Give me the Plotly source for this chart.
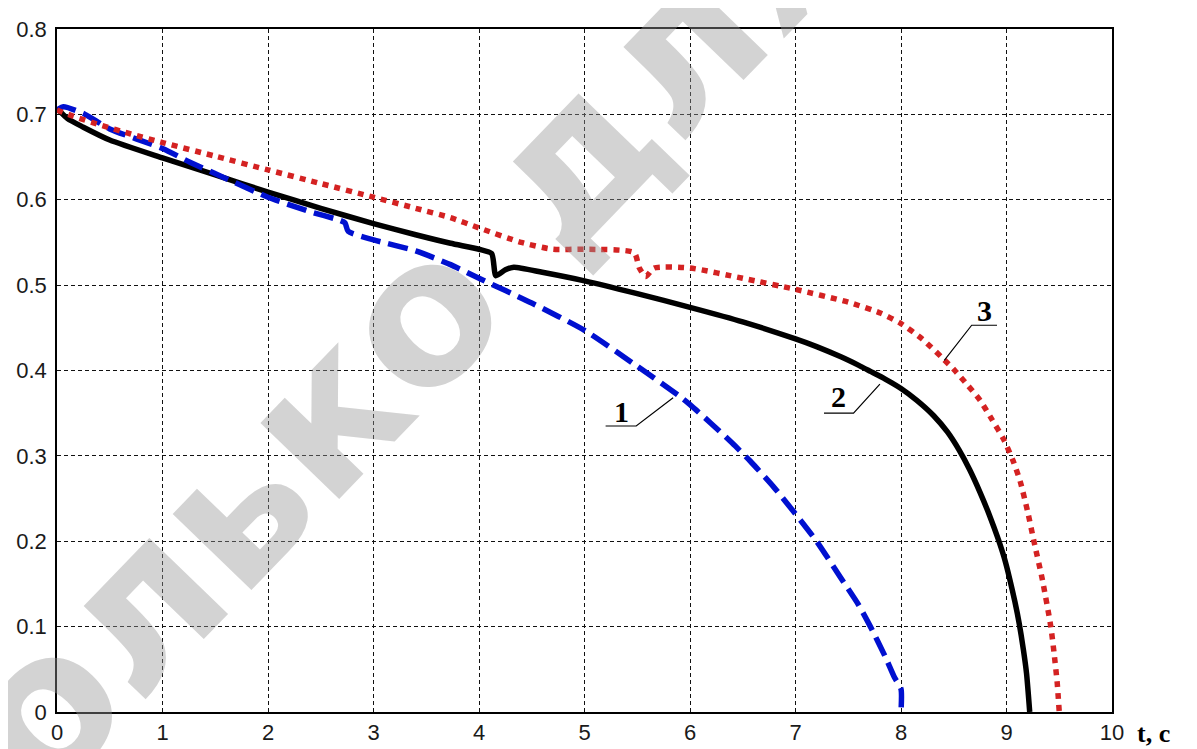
import plotly.graph_objects as go

# ---- data ----
x_tick_vals = [0, 1, 2, 3, 4, 5, 6, 7, 8, 9, 10]
x_tick_text = ["0", "1", "2", "3", "4", "5", "6", "7", "8", "9", "10"]
y_tick_vals = [0, 0.1, 0.2, 0.3, 0.4, 0.5, 0.6, 0.7, 0.8]
y_tick_text = ["0", "0.1", "0.2", "0.3", "0.4", "0.5", "0.6", "0.7", "0.8"]

# curve 1 (blue dashed)
t1 = [0, 0.06, 0.25, 0.5, 1.0, 1.26, 1.6, 2.0, 2.4, 2.68, 2.73, 2.76, 3.0, 3.4, 3.73,
      4.0, 4.5, 5.0, 5.5, 5.9, 6.0, 6.2, 6.4, 6.57, 6.79, 7.0, 7.2, 7.43, 7.6, 7.71,
      7.85, 7.94, 8.0, 8.0]
v1 = [0.705, 0.709, 0.701, 0.683, 0.66, 0.644, 0.625, 0.603, 0.586, 0.576, 0.573, 0.563,
      0.553, 0.54, 0.524, 0.508, 0.479, 0.447, 0.405, 0.37, 0.36, 0.338, 0.315, 0.294,
      0.264, 0.232, 0.2, 0.157, 0.125, 0.1, 0.065, 0.04, 0.027, 0.0]

# curve 2 (black solid)
t2 = [0, 0.1, 0.25, 0.5, 1.0, 1.5, 2.0, 2.5, 3.0, 3.4, 3.73, 4.0, 4.12, 4.16, 4.25,
      4.33, 4.6, 5.0, 5.5, 6.0, 6.5, 7.0, 7.2, 7.43, 7.6, 7.71, 7.85, 8.0, 8.15, 8.31,
      8.44, 8.55, 8.65, 8.75, 8.84, 8.92, 8.98, 9.03, 9.08, 9.12, 9.16, 9.19, 9.22]
v2 = [0.707, 0.695, 0.685, 0.67, 0.649, 0.629, 0.609, 0.59, 0.572, 0.559, 0.549, 0.542,
      0.537, 0.511, 0.518, 0.521, 0.515, 0.505, 0.49, 0.474, 0.457, 0.437, 0.428, 0.416,
      0.406, 0.399, 0.39, 0.379, 0.365, 0.347, 0.328, 0.307, 0.284, 0.257, 0.23, 0.203,
      0.18, 0.156, 0.129, 0.104, 0.073, 0.045, 0.0]

# curve 3 (red dotted)
t3 = [0, 0.15, 0.4, 0.7, 1.0, 1.5, 2.0, 2.5, 3.0, 3.4, 3.73, 4.0, 4.4, 4.7, 5.0, 5.47,
      5.52, 5.58, 5.66, 6.0, 6.5, 7.0, 7.5, 7.81, 8.0, 8.2, 8.39, 8.51, 8.63, 8.75,
      8.86, 8.97, 9.06, 9.13, 9.2, 9.26, 9.34, 9.42, 9.45, 9.48, 9.5]
v3 = [0.705, 0.698, 0.688, 0.677, 0.667, 0.651, 0.635, 0.619, 0.603, 0.59, 0.579, 0.567,
      0.55, 0.542, 0.542, 0.538, 0.52, 0.51, 0.52, 0.52, 0.508, 0.495, 0.48, 0.467,
      0.455, 0.437, 0.415, 0.40, 0.383, 0.365, 0.343, 0.32, 0.295, 0.27, 0.235, 0.2,
      0.155, 0.1, 0.07, 0.035, 0.0]

# curve number labels and their leader lines
label_text = ["1", "2", "3"]
label_x = [5.35, 7.41, 8.79]
label_y = [0.352, 0.369, 0.470]
leader_x = [[5.2, 5.49, 5.84], [7.27, 7.55, 7.8], [8.91, 8.67, 8.41]]
leader_y = [[0.335, 0.335, 0.368], [0.350, 0.350, 0.384], [0.453, 0.453, 0.412]]

axis_label = "t, c"
watermark = "Только для"

fig = go.Figure()

fig.add_trace(go.Scatter(x=t2, y=v2, mode="lines",
                         line=dict(color="#000000", width=5.5, shape="spline", smoothing=0.6,
                                   simplify=False),
                         hoverinfo="skip"))
fig.add_trace(go.Scatter(x=t1, y=v1, mode="lines",
                         line=dict(color="#0010d0", width=5.5, dash="20px,8px",
                                   shape="spline", smoothing=0.6, simplify=False),
                         hoverinfo="skip"))
fig.add_trace(go.Scatter(x=t3, y=v3, mode="lines",
                         line=dict(color="#d42222", width=5.5, dash="6px,6px",
                                   shape="spline", smoothing=0.6, simplify=False),
                         hoverinfo="skip"))

for lx, ly in zip(leader_x, leader_y):
    fig.add_trace(go.Scatter(x=lx, y=ly, mode="lines",
                             line=dict(color="#000000", width=1.2), hoverinfo="skip"))

for txt, lx, ly in zip(label_text, label_x, label_y):
    fig.add_annotation(x=lx, y=ly, xref="x", yref="y", text="<b>" + txt + "</b>",
                       showarrow=False, xanchor="center", yanchor="middle",
                       font=dict(family="Liberation Serif", size=30, color="#000000"))

fig.add_annotation(x=1.022, y=0, xref="paper", yref="paper", text="<b>" + axis_label + "</b>",
                   showarrow=False, xanchor="left", yanchor="middle", yshift=-21,
                   font=dict(family="Liberation Serif", size=26, color="#000000"))

fig.add_annotation(x=2.85, y=0.39, xref="x", yref="y", text="<b>" + watermark + "</b>",
                   showarrow=False, textangle=-46, xanchor="center", yanchor="middle",
                   font=dict(family="DejaVu Sans", size=200, color="rgba(150,150,150,0.42)"))

axis_common = dict(showgrid=True, gridcolor="#111111", gridwidth=1, griddash="4px,3px",
                   showline=True, linecolor="#000000", linewidth=1.5, mirror=True,
                   zeroline=False, ticks="", automargin=False,
                   tickfont=dict(family="Liberation Sans", size=22, color="#1a1a1a"))

fig.update_xaxes(range=[0, 10], tickvals=x_tick_vals, ticktext=x_tick_text, **axis_common)
fig.update_yaxes(range=[0, 0.8], tickvals=y_tick_vals, ticktext=y_tick_text,
                 ticklabelstandoff=4, **axis_common)

# page body has an 8px default margin (top/left), figure sized to reach the window edge
fig.update_layout(width=1189, height=741, showlegend=False,
                  margin=dict(l=49, r=85, t=21, b=37),
                  paper_bgcolor="#ffffff", plot_bgcolor="#ffffff")

fig.write_html("out.html")
